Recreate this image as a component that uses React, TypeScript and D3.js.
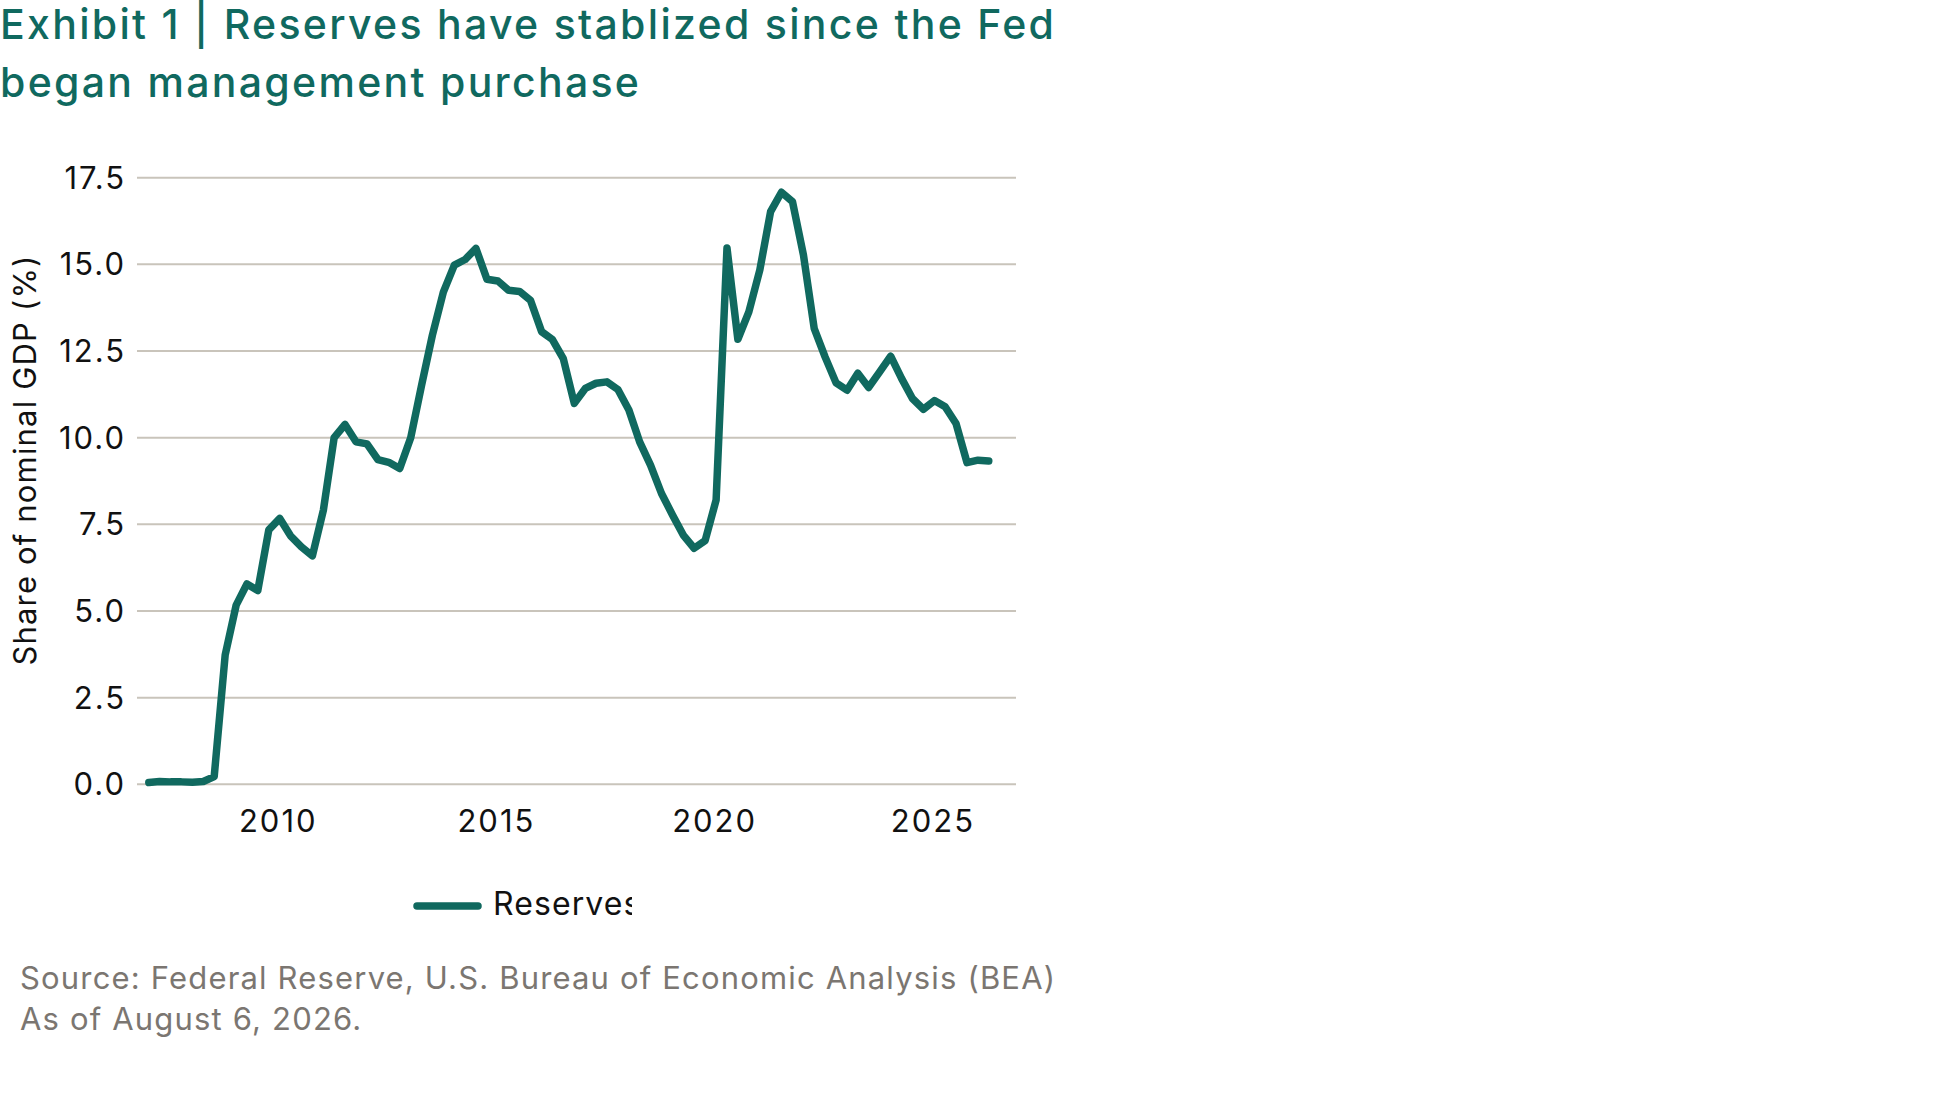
import * as d3 from 'd3';

// Reserves as share of nominal GDP (%), quarterly from 2007 Q1
const firstYear = 2007;
const reserves = [
  0.05, 0.08, 0.07, 0.07,
  0.06, 0.08, 0.22, 3.73,
  5.17, 5.78, 5.59, 7.34,
  7.67, 7.17, 6.85, 6.59,
  7.91, 10.0, 10.38, 9.88,
  9.82, 9.37, 9.29, 9.11,
  10.0, 11.5, 12.95, 14.2,
  14.98, 15.14, 15.46, 14.57,
  14.52, 14.25, 14.22, 13.96,
  13.06, 12.83, 12.28, 10.99,
  11.42, 11.57, 11.61, 11.39,
  10.8, 9.88, 9.21, 8.39,
  7.77, 7.19, 6.81, 7.03,
  8.2, 15.47, 12.84, 13.63,
  14.84, 16.52, 17.08, 16.81,
  15.27, 13.15, 12.33, 11.58,
  11.37, 11.86, 11.45, 11.9,
  12.35, 11.71, 11.13, 10.82,
  11.07, 10.89, 10.41, 9.28,
  9.35, 9.33,
];
const yTicks = [0, 2.5, 5, 7.5, 10, 12.5, 15, 17.5];
const xTickYears = [2010, 2015, 2020, 2025];

const titleLines = ['Exhibit 1 | Reserves have stablized since the Fed', 'began management purchase'];
const yLabel = 'Share of nominal GDP (%)';
const seriesName = 'Reserves';
const sourceLines = [
  'Source: Federal Reserve, U.S. Bureau of Economic Analysis (BEA)',
  'As of August 6, 2026.',
];

const teal = '#10695f';
const grid = '#c9c4bb';
const font = 'Inter, "Noto Sans", sans-serif';

export default function App() {
  const plot = { left: 137, right: 1016, top: 177.7, bottom: 784.3 };

  const points = reserves.map((v, i) => ({
    date: new Date(firstYear + Math.floor(i / 4), (i % 4) * 3, 22),
    value: v,
  }));

  const x = d3
    .scaleTime()
    .domain([new Date(2006, 9, 15), new Date(2026, 11, 6)])
    .range([plot.left, plot.right]);
  const y = d3.scaleLinear().domain([0, 17.5]).range([plot.bottom, plot.top]);

  const line = d3
    .line<{ date: Date; value: number }>()
    .x(d => x(d.date))
    .y(d => y(d.value));

  const fmt = d3.format('.1f');

  return (
    <svg
      width={1950}
      height={1100}
      style={{ position: 'absolute', left: 0, top: 0, background: '#fff' }}
      fontFamily={font}
    >
      <defs>
        <clipPath id="legend-clip">
          <rect x={380} y={870} width={252} height={80} />
        </clipPath>
      </defs>

      {/* Title */}
      {titleLines.map((t, i) => (
        <text key={t} x={0} y={39 + i * 58} fontSize={41} fontWeight={500} letterSpacing={2.3} fill={teal}>
          {t}
        </text>
      ))}

      {/* Gridlines */}
      {yTicks.map(t => (
        <line key={t} x1={plot.left} x2={plot.right} y1={y(t)} y2={y(t)} stroke={grid} strokeWidth={2} />
      ))}

      {/* Y tick labels */}
      {yTicks.map(t => (
        <text key={t} x={126} y={y(t) + 11} textAnchor="end" fontSize={31} letterSpacing={2} fill="#111">
          {fmt(t)}
        </text>
      ))}

      {/* X tick labels */}
      {xTickYears.map(yr => (
        <text
          key={yr}
          x={x(new Date(yr, 0, 1)) + 1}
          y={832}
          textAnchor="middle"
          fontSize={31}
          letterSpacing={2}
          fill="#111"
        >
          {yr}
        </text>
      ))}

      {/* Y axis title */}
      <text
        transform={`translate(36,460) rotate(-90)`}
        textAnchor="middle"
        fontSize={31}
        letterSpacing={1.17}
        fill="#111"
      >
        {yLabel}
      </text>

      {/* Series */}
      <path
        d={line(points) ?? ''}
        fill="none"
        stroke={teal}
        strokeWidth={7.5}
        strokeLinejoin="round"
        strokeLinecap="round"
      />

      {/* Legend */}
      <line x1={417} x2={478} y1={906} y2={906} stroke={teal} strokeWidth={7.5} strokeLinecap="round" />
      <text x={493} y={915} fontSize={32} letterSpacing={1.1} fill="#111" clipPath="url(#legend-clip)">
        {seriesName}
      </text>

      {/* Source */}
      {sourceLines.map((s, i) => (
        <text key={s} x={20} y={989 + i * 41} fontSize={31} letterSpacing={1.17} fill="#7b7671">
          {s}
        </text>
      ))}
    </svg>
  );
}
